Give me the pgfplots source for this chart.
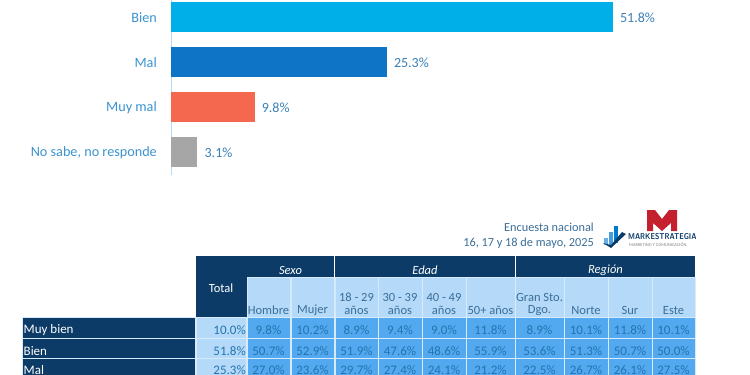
\documentclass[border=0pt]{standalone}
\usepackage{pgfplots}
\pgfplotsset{compat=1.18}
\usepackage{fontspec}
\setmainfont{Carlito}
\definecolor{navy}{HTML}{0B3B66}
\definecolor{lightc}{HTML}{B5DAF9}
\definecolor{midc}{HTML}{52A9F0}
\definecolor{gridc}{HTML}{D5EAFB}
\definecolor{labc}{HTML}{3A93D0}
\definecolor{cellc}{HTML}{2474AE}
\definecolor{headc}{HTML}{3A6E98}
\definecolor{valc}{HTML}{3B7FB5}
\definecolor{logored}{HTML}{C4202E}
\begin{document}
\begin{tikzpicture}[x=1pt,y=-1pt]
\path[use as bounding box] (0,0) rectangle (750,375);
\clip (0,0) rectangle (750,375);
\begin{axis}[
  at={(171pt,0pt)}, anchor=north west,
  scale only axis, width=511.8pt, height=175pt,
  xmin=0, xmax=60, ymin=-0.378, ymax=3.511, y dir=reverse,
  hide x axis, axis y line*=left,
  axis line style={draw=lightc,-},
  ytick={0,1,2,3},
  yticklabels={Bien,Mal,Muy mal,{No sabe, no responde\hspace{3pt}}},
  major tick length=0pt,
  yticklabel style={font=\fontsize{14.2}{16}\selectfont, text=labc, inner sep=0pt, xshift=-14pt, yshift=-1pt},
  xbar, bar shift=0pt, bar width=30pt,
  point meta=x,
  /pgf/number format/assume math mode=true,
  nodes near coords={\pgfmathprintnumber[fixed,fixed zerofill,precision=1]{\pgfplotspointmeta}\%},
  every node near coord/.append style={font=\fontsize{14}{16}\selectfont, text=valc, inner sep=0pt, xshift=7pt, yshift=-1pt, anchor=west},
  clip=false,
]
\addplot[draw=none, fill={rgb,255:red,0;green,174;blue,232}] coordinates {(51.8,0)};
\addplot[draw=none, fill={rgb,255:red,14;green,116;blue,198}] coordinates {(25.3,1)};
\addplot[draw=none, fill={rgb,255:red,245;green,104;blue,80}] coordinates {(9.8,2)};
\addplot[draw=none, fill={rgb,255:red,166;green,166;blue,166}] coordinates {(3.1,3)};
\end{axis}
% header text
\node[anchor=east,font=\fontsize{12.3}{14}\selectfont,text=headc,inner sep=0pt] at (594,227.5) {Encuesta nacional};
\node[anchor=east,font=\fontsize{12.3}{14}\selectfont,text=headc,inner sep=0pt] at (594,243) {16, 17 y 18 de mayo, 2025};
% logo
\fill[logored] (647,231) -- (647,210) -- (655,210) -- (662,219) -- (669,210) -- (677,210) -- (677,231) -- (671,231) -- (671,223) -- (662,231) -- (653,223) -- (653,231) -- cycle;
\fill[cyan!70!blue!60] (604,238) rectangle (608,245);
\fill[cyan!70!blue!75] (609,232) rectangle (613,245);
\fill[blue!40!cyan!80!black] (614,226) rectangle (618,243);
\fill[navy] (603,243) -- (611,248) -- (626,234) -- (622,232) -- (611,245) -- cycle;
\node[anchor=west,font=\fontsize{8.5}{9}\sffamily\bfseries,text=navy,inner sep=0pt,xscale=0.83] at (628,236.5) {MARKESTRATEGIA};
\node[anchor=west,font=\fontsize{4.5}{5}\selectfont,text=gray,inner sep=0pt] at (629,245) {MARKETING Y COMUNICACIÓN};
% table
\fill[navy] (196,256) rectangle (246.5,317);
\foreach \a/\b/\t in {247/334/Sexo,335/515/Edad,516/695/Región}{
  \fill[navy] (\a,256) rectangle (\b,277);
  \node[text=white,font=\fontsize{12.5}{14}\itshape] at ({(\a+\b)/2},270) {\t};
}
\node[text=white,font=\fontsize{12.5}{14}\selectfont] at (221,288) {Total};
\foreach \a/\b/\t/\u in {247/290//Hombre,291/334//Mujer,335/378/18 - 29/años,378/422/30 - 39/años,422/466/40 - 49/años,466/515//50+ años,515/564/Gran Sto./Dgo.,564/608//Norte,608/652//Sur,652/695//Este}{
  \fill[lightc,draw=gridc,line width=0.8pt] (\a,277.5) rectangle (\b,317);
  \node[text=headc,font=\fontsize{12.5}{14}\selectfont,inner sep=0pt] at ({(\a+\b)/2},310.5) {\u};
  \node[text=headc,font=\fontsize{12.5}{14}\selectfont,inner sep=0pt] at ({(\a+\b)/2},297) {\t};
}
% rows
\foreach \top/\bot/\cy/\lab/\tot/\va/\vb/\vc/\vd/\ve/\vf/\vg/\vh/\vi/\vj in {
 317/338/330.5/Muy bien/10.0/9.8/10.2/8.9/9.4/9.0/11.8/8.9/10.1/11.8/10.1,
 338/358.5/351.2/Bien/51.8/50.7/52.9/51.9/47.6/48.6/55.9/53.6/51.3/50.7/50.0,
 358.5/379/370.5/Mal/25.3/27.0/23.6/29.7/27.4/24.1/21.2/22.5/26.7/26.1/27.5}{
  \fill[navy,draw=gridc,line width=0.6pt] (22.5,\top) rectangle (195,\bot);
  \node[anchor=west,text=white,font=\fontsize{13}{15}\selectfont,inner sep=0pt] at (23.5,\cy) {\lab};
  \fill[lightc,draw=gridc,line width=0.6pt] (196,\top) rectangle (246.5,\bot);
  \node[anchor=east,text=cellc,font=\fontsize{13}{15}\selectfont,inner sep=0pt] at (246,\cy) {\tot\%};
  \foreach \a/\b/\v in {247/290/\va,291/334/\vb,335/378/\vc,378/422/\vd,422/466/\ve,466/515/\vf,515/564/\vg,564/608/\vh,608/652/\vi,652/695/\vj}{
    \fill[midc,draw=gridc,line width=0.6pt] (\a,\top) rectangle (\b,\bot);
    \node[text=cellc,font=\fontsize{13}{15}\selectfont,inner sep=0pt] at ({(\a+\b)/2},\cy) {\v\%};
  }
}
\end{tikzpicture}
\end{document}
